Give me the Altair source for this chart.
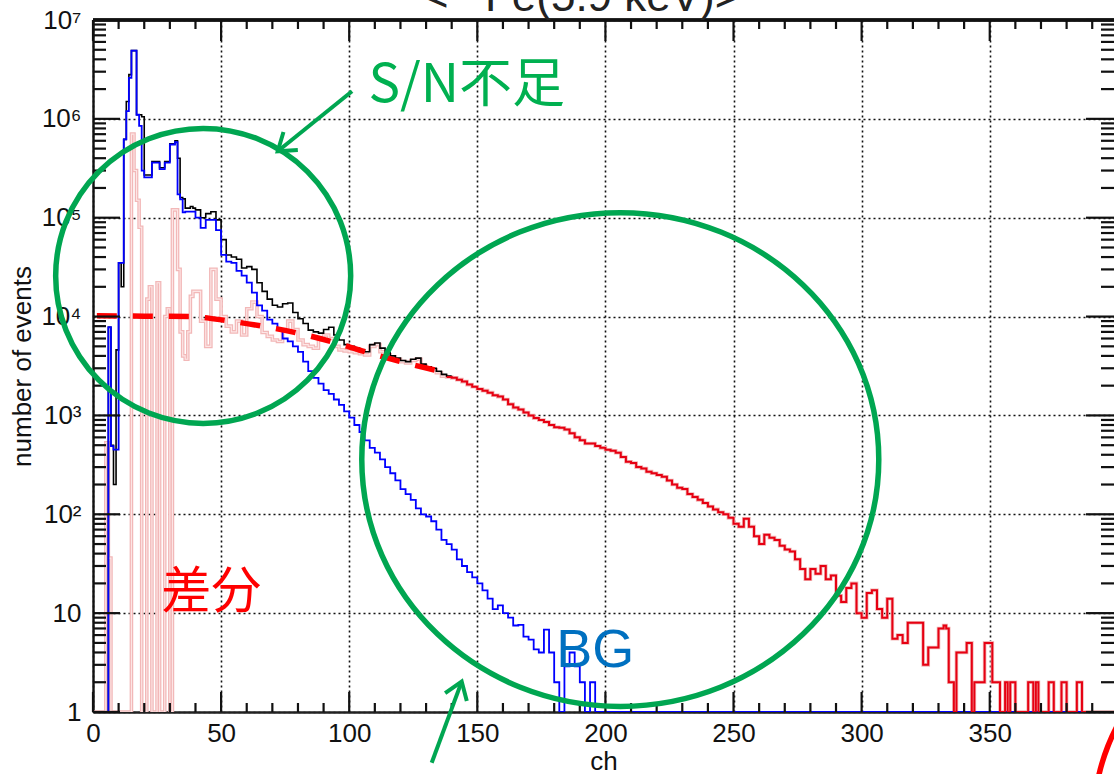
import altair as alt
import pandas as pd

# ---------------- data ----------------
# bin starts: 1-ch bins below ch 40, 2-ch bins above (1-ch bins in the far tail of the difference)
total_ch = list(range(0, 40)) + list(range(40, 140, 2))
total_counts = [
    1, 1, 1, 1, 1, 1, 7800, 500, 200, 4600,
    35000, 20000, 620000, 1.5e6, 2.8e6, 4.9e6, 4.9e6, 1.1e6, 1.1e6, 1.05e6,
    2.7e5, 2.7e5, 2.7e5, 3.7e5, 3.7e5, 3.7e5, 3.2e5, 3.2e5, 3.7e5, 3.7e5,
    5.6e5, 5.6e5, 6.0e5, 4e5, 1.6e5, 1.55e5, 1.25e5, 1.25e5, 1.3e5, 1.25e5,
    1.2e5, 1.0e5, 1.1e5, 1.15e5, 9.5e4, 6e4, 4.2e4, 4.0e4, 3.8e4, 3.1e4,
    3.2e4, 3.0e4, 2.2e4, 1.8e4, 1.5e4, 1.3e4, 1.25e4, 1.35e4, 1.37e4, 1.1e4,
    9.5e3, 8.5e3, 7.3e3, 7.0e3, 6.8e3, 7.4e3, 7.8e3, 6.5e3, 5.8e3, 5.2e3,
    5.0e3, 4.8e3, 4.6e3, 4.4e3, 5.2e3, 5.4e3, 4.8e3, 4.3e3, 4.0e3, 3.8e3,
    3.6e3, 3.5e3, 3.7e3, 3.8e3, 3.3e3, 3.1e3, 3.0e3, 2.8e3, 2.6e3, 2.5e3,
]
total_end = 140

bg_ch = list(range(0, 40)) + list(range(40, 200, 2))
bg_counts = [
    1, 1, 1, 1, 1, 1, 7800, 490, 450, 450,
    35000, 35000, 620000, 1.2e6, 2.6e6, 4.9e6, 4.9e6, 1.1e6, 8.5e5, 3.0e5,
    2.56e5, 2.56e5, 2.56e5, 3.6e5, 3.6e5, 3.6e5, 3.1e5, 3.1e5, 3.6e5, 3.6e5,
    5.5e5, 5.5e5, 5.8e5, 1.72e5, 1.53e5, 1.13e5, 1.15e5, 1.15e5, 1.15e5, 1.15e5,
    1.0e5, 7.9e4, 9.5e4, 9.5e4, 7.5e4, 4.2e4, 3.6e4, 3.5e4, 2.9e4, 2.6e4,
    2.2e4, 1.75e4, 1.3e4, 1.15e4, 9.3e3, 8.5e3, 7.4e3, 6.0e3, 5.6e3, 5.0e3,
    4.4e3, 3.5e3, 2.8e3, 2.4e3, 2.1e3, 1.8e3, 1.65e3, 1.45e3, 1.28e3, 1.1e3,
    950, 800, 680, 560, 470, 420, 360, 300, 260, 220,
    180, 160, 140, 115, 100, 95, 85, 70, 55, 50,
    44, 35, 30, 26, 23, 20, 17, 14, 11, 12,
    10, 9, 7.5, 7.6, 5.8, 5.4, 4.3, 4.0, 6.8, 4.0,
    2, 1, 2.9, 4, 2.9, 2, 1, 2, 1, 1,
]
bg_end = 400

diff_ch = list(range(0, 40)) + list(range(40, 330, 2)) + list(range(330, 400))
diff_counts = [
    1, 1, 1, 1, 1, 530, 36, 1, 1, 1,
    1, 1, 1, 1, 1, 7e5, 3e5, 1.5e5, 8e4, 1,
    1, 1.5e4, 2e4, 1, 1, 2.2e4, 1, 1, 1e4, 1.2e4,
    1, 1.2e5, 1.2e5, 3e4, 7e3, 4e3, 3.7e3, 7e3, 1.6e4, 1.8e4,
    1.8e4, 9e3, 5e3, 3e4, 1.5e4, 1e4, 8e3, 7e3, 9e3, 6.5e3,
    1.2e4, 1.4e4, 1.0e4, 6.9e3, 6.3e3, 5.8e3, 5.6e3, 7.4e3, 9e3, 7.4e3,
    5.8e3, 5.2e3, 5.0e3, 4.8e3, 5.8e3, 6.5e3, 6.0e3, 5.0e3, 4.6e3, 4.5e3,
    4.4e3, 4.3e3, 4.2e3, 4.1e3, 5.0e3, 5.2e3, 4.4e3, 4.1e3, 3.9e3, 3.7e3,
    3.5e3, 3.4e3, 3.6e3, 3.7e3, 3.2e3, 3.0e3, 2.9e3, 2.7e3, 2.5e3, 2.45e3,
    2.4e3, 2.3e3, 2.2e3, 2.05e3, 1.95e3, 1.85e3, 1.78e3, 1.7e3, 1.6e3, 1.55e3,
    1.45e3, 1.3e3, 1.2e3, 1.15e3, 1.07e3, 1.0e3, 940, 900, 860, 800,
    760, 750, 720, 660, 600, 560, 520, 520, 490, 470,
    450, 440, 420, 380, 340, 330, 300, 290, 270, 260,
    250, 240, 220, 200, 185, 180, 160, 150, 140, 130,
    120, 112, 105, 100, 92, 80, 75, 90, 75, 60,
    50, 62, 58, 55, 48, 44, 42, 35, 28, 22,
    28, 25, 30, 22, 24, 15, 13, 18, 20, 10,
    9, 16, 17, 11, 9, 14, 5.5, 6, 5, 8,
    8, 8, 3, 4.5, 4.5,
    7, 7, 7.5, 7, 2, 2, 1, 4, 4, 4,
    4, 5, 5, 1, 2, 2, 2, 2, 5, 5,
    5, 2, 2, 2, 1, 1, 2, 1, 2, 2,
    1, 1, 1, 1, 1, 2, 2, 1, 2, 1,
    1, 1, 1, 2, 2, 1, 1, 1, 2, 2,
    1, 1, 1, 1, 2, 2, 1, 1, 1, 1,
    1, 1, 1, 1, 1, 1, 1, 1, 1, 1,
]
diff_end = 400
diff_red_from = 138

fit_ch = [1.5, 20, 38, 52, 66, 80, 95, 105, 120, 138]
fit_counts = [1.02e4, 1.01e4, 1.0e4, 9.1e3, 8.0e3, 6.8e3, 5.4e3, 4.5e3, 3.5e3, 2.7e3]

assert len(total_ch) == len(total_counts)
assert len(bg_ch) == len(bg_counts)
assert len(diff_ch) == len(diff_counts)

x_major = [0, 50, 100, 150, 200, 250, 300, 350]
x_minor = [v for v in range(10, 400, 10) if v % 50 != 0]
y_major = [1, 10, 100, 1e3, 1e4, 1e5, 1e6, 1e7]
y_minor = [k * 10 ** d for d in range(0, 7) for k in range(2, 10)]

# ---------------- layout / style ----------------
W, H = 1021, 692
GREEN = "#00a651"
FONT = "Liberation Sans"
CJK = "Noto Sans CJK JP"

X_SCALE = alt.Scale(domain=[0, 398.5], nice=False, zero=False)
Y_SCALE = alt.Scale(type="log", domain=[1, 1e7], nice=False)

x_axis = alt.Axis(
    values=x_major, grid=True, gridDash=[2, 3], gridColor="#111", gridWidth=1.6,
    ticks=False, tickSize=0, domainColor="#222", domainWidth=2.4,
    labelFont=FONT, labelFontSize=26, labelColor="#111", labelPadding=8,
    labelFlush=False, labelOverlap=False,
    title="ch", titleFont=FONT, titleFontSize=26, titleFontWeight="normal",
    titleColor="#111", titleY=57, titleBaseline="alphabetic",
)
y_axis = alt.Axis(
    values=y_major, grid=True, gridDash=[2, 3], gridColor="#111", gridWidth=1.6,
    ticks=False, tickSize=0, domainColor="#111", domainWidth=2.4,
    labelFont=FONT, labelFontSize=26, labelColor="#111", labelPadding=12,
    labelFlush=False, labelOverlap=False,
    labelExpr="datum.value < 5 ? '1' : datum.value < 50 ? '10' : '10' + ['','','\u00b2','\u00b3','\u2074','\u2075','\u2076','\u2077'][round(log(datum.value)/LN10)]",
    title="number of events", titleFont=FONT, titleFontSize=26, titleFontWeight="normal",
    titleColor="#111", titleAngle=270, titleX=-63, titleY=H / 2, titleAlign="center",
    titleBaseline="alphabetic",
)


def X(field="ch"):
    return alt.X(f"{field}:Q", scale=X_SCALE, axis=x_axis)


def Y(field="val"):
    return alt.Y(f"{field}:Q", scale=Y_SCALE, axis=y_axis)


def hist_df(ch, vals, end):
    return pd.DataFrame({"ch": ch + [end], "val": vals + [vals[-1]]})


total_df = hist_df(total_ch, total_counts, total_end)
bg_df = hist_df(bg_ch, bg_counts, bg_end)
diff_df = hist_df(diff_ch, diff_counts, diff_end)
fit_df = pd.DataFrame({"ch": fit_ch, "val": fit_counts})

pink = alt.Chart(diff_df).mark_line(
    interpolate="step-after", clip=True, strokeWidth=3.6, color="#f2b8b8"
).encode(x=X(), y=Y())
pink_core = alt.Chart(diff_df).transform_filter(alt.datum.ch < diff_red_from + 2).mark_line(
    interpolate="step-after", clip=True, strokeWidth=1.1, color="#fde6e6"
).encode(x=X(), y=Y())
black = alt.Chart(total_df).mark_line(
    interpolate="step-after", clip=True, strokeWidth=1.6, color="#000000"
).encode(x=X(), y=Y())
blue = alt.Chart(bg_df).mark_line(
    interpolate="step-after", clip=True, strokeWidth=1.8, color="#0000ff"
).encode(x=X(), y=Y())
red = alt.Chart(diff_df).transform_filter(alt.datum.ch >= diff_red_from).mark_line(
    interpolate="step-after", clip=True, strokeWidth=2, color="#e60012"
).encode(x=X(), y=Y())
fit = alt.Chart(fit_df).mark_line(
    interpolate="monotone", strokeWidth=5.5, color="#ff0000", strokeDash=[20, 16]
).encode(x=X(), y=Y())

# ---------------- inward tick marks and top frame ----------------
xmaj = pd.DataFrame({"ch": x_major})
xmin = pd.DataFrame({"ch": x_minor})
ymaj = pd.DataFrame({"val": y_major})
ymin = pd.DataFrame({"val": y_minor})
tick_style = dict(color="#111", strokeWidth=2.2)
ticks = [
    alt.Chart(xmaj).mark_rule(**tick_style).encode(x=X(), y=alt.value(H), y2=alt.value(H - 20)),
    alt.Chart(xmin).mark_rule(**tick_style).encode(x=X(), y=alt.value(H), y2=alt.value(H - 9)),
    alt.Chart(xmaj).mark_rule(**tick_style).encode(x=X(), y=alt.value(0), y2=alt.value(21)),
    alt.Chart(xmin).mark_rule(**tick_style).encode(x=X(), y=alt.value(0), y2=alt.value(9)),
    alt.Chart(ymaj).mark_rule(**tick_style).encode(y=Y(), x=alt.value(0), x2=alt.value(27)),
    alt.Chart(ymin).mark_rule(**tick_style).encode(y=Y(), x=alt.value(0), x2=alt.value(13)),
    alt.Chart(ymaj).mark_rule(**tick_style).encode(y=Y(), x=alt.value(W - 28), x2=alt.value(W + 3)),
    alt.Chart(ymin).mark_rule(**tick_style).encode(y=Y(), x=alt.value(W - 13), x2=alt.value(W + 3)),
    alt.Chart(xmaj).mark_rule(color="#111", strokeWidth=2.4).encode(
        x=alt.value(0), x2=alt.value(W), y=alt.value(0)),
]

# ---------------- annotations (positions in data units) ----------------
circ1 = pd.DataFrame({"ch": [43.0], "val": [2.58e4]})
circ2 = pd.DataFrame({"ch": [205.8], "val": [358]})
circ3 = pd.DataFrame({"ch": [468.7], "val": [0.0813]})
ellipse_path = "M -1 0 A 1 0.955 0 1 1 1 0 A 1 0.955 0 1 1 -1 0 Z"

c1 = alt.Chart(circ1).mark_point(shape="circle", filled=False, size=295 ** 2, strokeWidth=5.5,
                                 color=GREEN, opacity=1).encode(x=X(), y=Y())
c2 = alt.Chart(circ2).mark_point(shape=ellipse_path, filled=False, size=517 ** 2, strokeWidth=5.5,
                                 color=GREEN, opacity=1).encode(x=X(), y=Y())
c3 = alt.Chart(circ3).mark_point(shape="circle", filled=False, size=400 ** 2, strokeWidth=5.5,
                                 color="#ff0000", opacity=1).encode(x=X(), y=Y())

arrows = pd.DataFrame({
    "ch": [101.1, 132.2], "val": [1.9e6, 0.307],
    "ch2": [72.1, 143.9], "val2": [4.7e5, 2.03],
})
arrow_lines = alt.Chart(arrows).mark_rule(color=GREEN, strokeWidth=4).encode(
    x=X(), y=Y(), x2="ch2:Q", y2="val2:Q")
head1 = alt.Chart(pd.DataFrame({"ch": [72.1], "val": [4.7e5]})).mark_point(
    shape="M -1 -0.7 L 0 0 L -1 0.7", filled=False, size=33 ** 2, strokeWidth=4,
    color=GREEN, opacity=1, angle=141.6, strokeJoin="miter").encode(x=X(), y=Y())
head2 = alt.Chart(pd.DataFrame({"ch": [143.9], "val": [2.03]})).mark_point(
    shape="M -1 -0.7 L 0 0 L -1 0.7", filled=False, size=33 ** 2, strokeWidth=4,
    color=GREEN, opacity=1, angle=290.3, strokeJoin="miter").encode(x=X(), y=Y())

t_sn = alt.Chart(pd.DataFrame({"ch": [107.5], "val": [1.47e6]})).mark_text(
    text="S/N不足", font=CJK, fontSize=53, color="#00b050", align="left",
    baseline="alphabetic").encode(x=X(), y=Y())
t_diff = alt.Chart(pd.DataFrame({"ch": [26.6], "val": [11.4]})).mark_text(
    text="差分", font=CJK, fontSize=50, color="#ff0000", align="left",
    baseline="alphabetic").encode(x=X(), y=Y())
t_bg = alt.Chart(pd.DataFrame({"ch": [180.8], "val": [2.87]})).mark_text(
    text="BG", font=FONT, fontSize=54, color="#0070c0", align="left",
    baseline="alphabetic").encode(x=X(), y=Y())
t_title = alt.Chart(pd.DataFrame({"ch": [190.7], "val": [1.22e7]})).mark_text(
    text="<\u2075\u2075Fe(5.9 keV)>", font=FONT, fontSize=44, color="#222", align="center",
    baseline="alphabetic").encode(x=X(), y=Y())

chart = alt.layer(
    pink, pink_core, black, blue, red, fit, *ticks,
    c1, c2, c3, arrow_lines, head1, head2, t_sn, t_diff, t_bg, t_title,
).properties(
    width=W, height=H,
    padding={"left": 93, "top": 20, "right": 0, "bottom": 62},
    autosize=alt.AutoSizeParams(type="none"),
).configure_view(stroke="transparent")

chart.save("out.html", embed_options={"renderer": "svg", "actions": False})
